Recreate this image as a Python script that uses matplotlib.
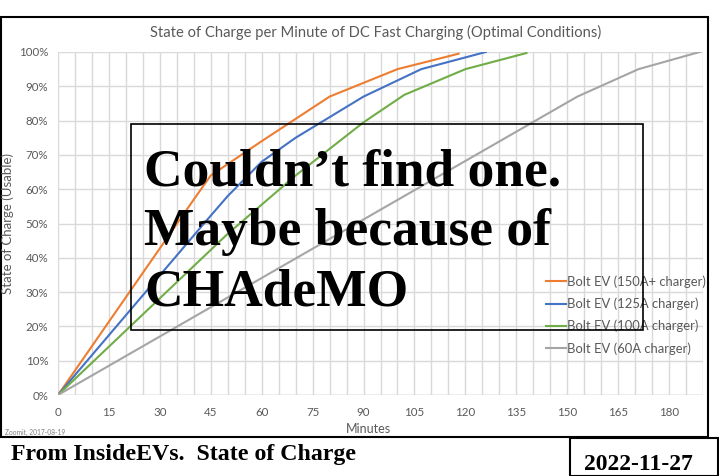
import matplotlib.pyplot as plt
from matplotlib.patches import Rectangle
import numpy as np

W, H = 719, 476

# minutes / state of charge (%)
min_150 = [0, 40, 45, 60, 80, 100, 118]
soc_150 = [0, 57, 64, 74, 87, 95, 99.5]
min_125 = [0, 43, 50, 60, 70, 90, 107, 126]
soc_125 = [0, 50, 58, 68, 75, 87, 95, 100]
min_100 = [0, 50, 70, 90, 102, 120, 138]
soc_100 = [0, 47, 64, 79.5, 87.5, 95, 99.7]
min_60 = [0, 153, 171, 189]
soc_60 = [0, 87, 95, 100]

labels = ['Bolt EV (150A+ charger)', 'Bolt EV (125A charger)',
          'Bolt EV (100A charger)', 'Bolt EV (60A charger)']
colors = ['#ED7D31', '#4472C4', '#70AD47', '#A5A5A5']
xticks = list(range(0, 181, 15))
yticks = list(range(0, 101, 10))
note = ['Couldn’t find one.', 'Maybe because of', 'CHAdeMO']

plt.rcParams['font.family'] = ['Lato', 'DejaVu Sans']
grey = '#595959'

fig = plt.figure(figsize=(W / 100, H / 100), dpi=100)


def fx(px):
    return px / W


def fy(py):
    return 1 - py / H


ax = fig.add_axes([fx(58), fy(395), fx(703) - fx(58), fy(52) - fy(395)])
series = [(min_150, soc_150), (min_125, soc_125), (min_100, soc_100), (min_60, soc_60)]
for (x, y), lab, c in zip(series, labels, colors):
    ax.plot(x, y, color=c, lw=1.5, label=lab, zorder=3)

ax.set_xlim(0, 190)
ax.set_ylim(0, 100)
ax.set_xticks(xticks)
ax.set_xticks(np.arange(0, 191, 5), minor=True)
ax.set_yticks(yticks)
ax.set_yticklabels(['{}%'.format(v) for v in yticks])
ax.grid(True, which='both', axis='x', color='#d9d9d9', lw=1)
ax.grid(True, which='major', axis='y', color='#d9d9d9', lw=1)
ax.tick_params(which='both', length=0, labelsize=8.3, labelcolor=grey, pad=7)
ax.tick_params(axis='x', pad=9)
for s in ax.spines.values():
    s.set_visible(False)
ax.axhline(0, color='#bfbfbf', lw=1)

ax.legend(loc='upper left', bbox_to_anchor=(fx(541), fy(270)), bbox_transform=fig.transFigure,
          frameon=False, fontsize=9.4, labelcolor=grey, handlelength=1.5,
          handletextpad=0.1, labelspacing=0.75, borderaxespad=0)

fig.text(fx(376), fy(32), 'State of Charge per Minute of DC Fast Charging (Optimal Conditions)',
         ha='center', va='center', fontsize=10.6, color=grey)
fig.text(fx(8), fy(224), 'State of Charge (Usable)', rotation=90,
         ha='center', va='center', fontsize=9.5, color=grey)
fig.text(fx(368), fy(429), 'Minutes', ha='center', va='center', fontsize=9, color=grey)
fig.text(fx(5), fy(432), 'Zoomit, 2017-08-19', ha='left', va='center', fontsize=4.8, color='#7f7f7f')

# frame around the screenshot
fig.add_artist(Rectangle((fx(1), fy(437)), fx(708) - fx(1), fy(17) - fy(437),
                         transform=fig.transFigure, fill=False, ec='black', lw=1.5))
# overlay note
fig.add_artist(Rectangle((fx(131), fy(330)), fx(643) - fx(131), fy(124) - fy(330),
                         transform=fig.transFigure, fill=False, ec='black', lw=1.2, zorder=5))
for line, base in zip(note, [185, 245, 306]):
    fig.text(fx(144), fy(base), line, ha='left', va='baseline', fontsize=38.5,
             fontweight='bold', family='Liberation Serif', zorder=6)

fig.text(fx(11), fy(460), 'From InsideEVs.  State of Charge', ha='left', va='baseline',
         fontsize=17.2, fontweight='bold', family='Liberation Serif')
fig.add_artist(Rectangle((fx(570), fy(476)), fx(718) - fx(570), fy(438) - fy(476),
                         transform=fig.transFigure, fill=False, ec='black', lw=1.5))
fig.text(fx(638), fy(470), '2022-11-27', ha='center', va='baseline',
         fontsize=17, fontweight='bold', family='Liberation Serif')

fig.savefig('out.png', dpi=100)
